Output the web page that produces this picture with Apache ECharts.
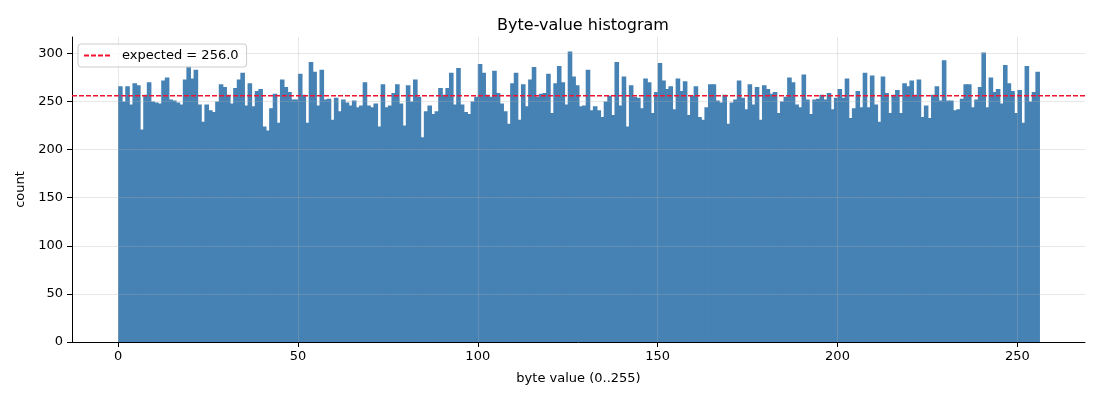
<!DOCTYPE html>
<html>
<head>
<meta charset="utf-8">
<script src="https://cdn.jsdelivr.net/npm/echarts@6/dist/echarts.min.js"></script>
<style>
  html, body { margin: 0; padding: 0; background: #fff; }
  #chart { width: 1100px; height: 400px; }
</style>
</head>
<body>
<div id="chart"></div>
<script>
// count per byte value 0..255
var counts = [
  266, 250, 266, 247, 269, 267, 221, 257, 270, 250,
  249, 248, 272, 275, 252, 251, 249, 247, 273, 287,
  274, 283, 247, 229, 247, 241, 239, 250, 268, 265,
  257, 248, 264, 273, 280, 246, 269, 245, 261, 263,
  224, 220, 243, 258, 228, 273, 265, 260, 252, 252,
  279, 257, 228, 291, 281, 246, 283, 252, 253, 231,
  254, 240, 252, 249, 246, 251, 244, 246, 270, 246,
  244, 248, 224, 268, 244, 246, 259, 268, 248, 225,
  267, 250, 273, 255, 213, 240, 246, 237, 240, 264,
  257, 264, 280, 247, 285, 247, 239, 237, 250, 255,
  289, 280, 257, 255, 282, 259, 248, 240, 227, 269,
  280, 231, 268, 245, 273, 286, 255, 258, 259, 279,
  238, 269, 287, 270, 247, 302, 276, 267, 245, 246,
  283, 241, 245, 241, 234, 250, 256, 236, 291, 246,
  276, 224, 267, 255, 254, 243, 274, 270, 238, 260,
  290, 272, 263, 266, 242, 274, 261, 271, 236, 256,
  266, 234, 231, 244, 268, 268, 251, 249, 257, 227,
  249, 252, 272, 254, 242, 268, 247, 265, 231, 267,
  263, 258, 260, 238, 250, 255, 275, 270, 247, 244,
  278, 252, 237, 252, 253, 257, 252, 259, 242, 254,
  263, 254, 274, 233, 243, 261, 244, 280, 244, 277,
  247, 229, 276, 259, 238, 257, 262, 238, 269, 266,
  272, 257, 273, 234, 246, 233, 257, 266, 251, 293,
  251, 251, 241, 242, 253, 268, 268, 244, 252, 265,
  301, 244, 275, 260, 263, 248, 288, 269, 261, 238,
  262, 228, 287, 250, 260, 281
];
var expected = 256.0;
var xTicks = [0, 50, 100, 150, 200, 250];
var yTicks = [0, 50, 100, 150, 200, 250, 300];

var xMin = -12.8, xMax = 268.8;
var yMax = 317.1;

var font = 'DejaVu Sans';
var red = '#f01430';
var barColor = '#4682b4';
var gridLine = { show: true, lineStyle: { color: 'rgba(176,176,176,0.3)', width: 1 } };
// little dashed line for the legend entry
var dashIcon = 'path://M0,0h5v2h-5z M7,0h5v2h-5z M14,0h5v2h-5z M21,0h5v2h-5z';

var chart = echarts.init(document.getElementById('chart'), null, { renderer: 'canvas' });

var option = {
  animation: false,
  backgroundColor: '#fff',
  textStyle: { fontFamily: font },
  title: {
    text: 'Byte-value histogram',
    left: 578, top: 13, textAlign: 'center',
    textStyle: { fontFamily: font, fontSize: 16, fontWeight: 'normal', color: '#000' }
  },
  grid: { left: 72, right: 15, top: 37, bottom: 58, containLabel: false },
  legend: {
    left: 78, top: 44, z: 10,
    padding: [5, 8, 5, 6],
    backgroundColor: 'rgba(255,255,255,0.8)',
    borderColor: '#cccccc', borderWidth: 1, borderRadius: 3,
    itemWidth: 28, itemHeight: 2,
    itemStyle: { color: red },
    textStyle: { fontFamily: font, fontSize: 13, color: '#000', padding: [0, 0, 0, 6] },
    data: [{ name: 'expected = 256.0', icon: dashIcon, itemStyle: { color: red } }]
  },
  xAxis: {
    type: 'value', min: xMin, max: xMax, z: 5,
    name: 'byte value (0..255)', nameLocation: 'middle', nameGap: 30,
    nameTextStyle: { fontFamily: font, fontSize: 13, color: '#000' },
    axisLine: { show: true, onZero: false, lineStyle: { color: '#000', width: 1 } },
    axisTick: { show: true, length: 5, customValues: xTicks, lineStyle: { color: '#000' } },
    axisLabel: { customValues: xTicks, margin: 8, fontFamily: font, fontSize: 13, color: '#000' },
    splitLine: gridLine
  },
  yAxis: {
    type: 'value', min: 0, max: yMax, z: 5,
    name: 'count', nameLocation: 'middle', nameGap: 42, nameRotate: 90,
    nameTextStyle: { fontFamily: font, fontSize: 13, color: '#000' },
    axisLine: { show: true, onZero: false, lineStyle: { color: '#000', width: 1 } },
    axisTick: { show: true, length: 5, customValues: yTicks, lineStyle: { color: '#000' } },
    axisLabel: { customValues: yTicks, margin: 9, fontFamily: font, fontSize: 13, color: '#000' },
    splitLine: gridLine
  },
  series: [
    {
      type: 'custom',
      name: 'counts',
      z: 2,
      data: counts.map(function (c, i) { return [i, c]; }),
      encode: { x: 0, y: 1 },
      renderItem: function (params, api) {
        var b = api.value(0), v = api.value(1);
        var top = api.coord([b, v]);
        var base = api.coord([b + 1, 0]);
        // overlap the next bar by a pixel so no seams show
        return {
          type: 'rect',
          shape: { x: top[0], y: top[1], width: base[0] - top[0] + 1, height: base[1] - top[1] },
          style: { fill: barColor }
        };
      }
    },
    {
      type: 'line',
      name: 'expected = 256.0',
      z: 6,
      symbol: 'none',
      color: red,
      data: [[xMin, expected], [xMax, expected]],
      lineStyle: { color: red, width: 1.5, type: [5, 2] },
      itemStyle: { color: red }
    }
  ]
};

chart.setOption(option);
</script>
</body>
</html>
